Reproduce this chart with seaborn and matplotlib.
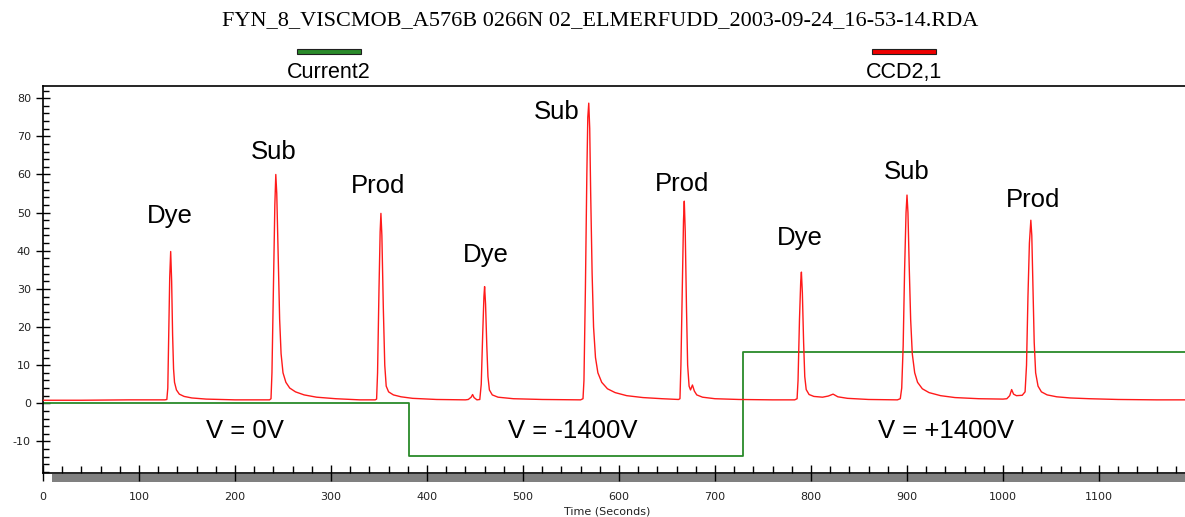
import matplotlib
matplotlib.use("Agg")
import matplotlib.pyplot as plt
from matplotlib.patches import Rectangle
from matplotlib.ticker import MultipleLocator
import seaborn as sns
import pandas as pd

# ---------------- data ----------------
title_text = "FYN_8_VISCMOB_A576B 0266N 02_ELMERFUDD_2003-09-24_16-53-14.RDA"
series_names = ["Current2", "CCD2,1"]

# CCD2,1 detector trace (time in s, signal)
trace_time = [
    0, 40, 90, 127,
    129, 130, 131, 132, 133, 134, 135, 136, 137, 139, 142, 147, 155, 170, 200, 236,
    237.5, 238.5, 240, 241.5, 242.5, 243.5, 245, 246.5, 248, 250, 253, 257, 263, 272, 285, 305, 330, 346,
    347.5, 348.5, 350, 351.2, 352, 353, 354.5, 356, 357.5, 360, 365, 373, 385, 410, 440,
    443, 446, 447.5, 449, 452, 455, 456.5, 458, 459.3, 460, 461, 462.3, 463.5, 465, 468, 474, 490, 520, 560,
    562.5, 563.5, 565, 566.5, 567.5, 568.5, 569.5, 570.5, 572, 573.5, 575.5, 578, 582, 588, 596, 608, 625, 645, 662,
    663.5, 664.5, 666, 667.2, 668, 669, 670.3, 671.5, 673, 674.5, 676.5, 678.5, 681, 687, 700, 725, 760, 783,
    785.5, 786.5, 788, 789.3, 790, 791, 792.3, 793.5, 795, 798, 803, 812, 818, 823, 828, 838, 860, 890,
    893, 894.5, 896, 897.5, 899, 900, 901, 902.3, 903.8, 905.5, 908, 911, 916, 923, 935, 950, 975, 1000,
    1004, 1007, 1009, 1011, 1014, 1020, 1023, 1024.5, 1026, 1027.5, 1029, 1030, 1031.3, 1032.5, 1034, 1036.5,
    1040, 1046, 1056, 1070, 1090, 1120, 1160, 1190,
]
trace_signal = [
    0.8, 0.8, 0.9, 0.9,
    1.0, 4, 18, 33, 39.8, 32, 18, 9, 5.5, 3.5, 2.4, 1.8, 1.4, 1.1, 0.9, 0.9,
    1.2, 8, 30, 52, 60, 55, 38, 22, 13, 8, 5.5, 4, 3, 2.2, 1.6, 1.2, 0.9, 0.9,
    1.1, 8, 30, 45, 49.8, 44, 25, 10, 4.5, 3, 2.2, 1.7, 1.3, 1.0, 0.9,
    1.0, 1.6, 2.3, 1.5, 0.9, 1.0, 5, 18, 28, 30.6, 26, 15, 7, 3.5, 2.2, 1.6, 1.2, 1.0, 0.9,
    1.2, 6, 30, 60, 75, 78.7, 72, 55, 34, 20, 12, 8, 5.5, 3.8, 2.8, 2, 1.5, 1.2, 1.0,
    1.2, 10, 32, 48, 53, 45, 25, 10, 4.5, 3.5, 4.8, 3.2, 2.2, 1.6, 1.2, 1.0, 0.9, 0.9,
    1.2, 6, 22, 32, 34.4, 29, 16, 7, 3.6, 2.3, 1.8, 1.6, 1.9, 2.4, 1.7, 1.3, 1.0, 0.9,
    1.2, 4, 15, 35, 50, 54.6, 50, 36, 22, 13, 8, 5.5, 3.8, 2.8, 2, 1.5, 1.2, 1.1,
    1.2, 2, 3.6, 2.4, 2, 2.1, 3, 10, 28, 42, 48, 44, 30, 16, 8, 4.5,
    3, 2.2, 1.7, 1.4, 1.2, 1.0, 0.9, 0.9,
]

# Current2 (applied voltage) step trace
volt_time = [0, 381, 729, 1190]
volt_level = [0, -13.8, 13.4, 13.4]

# peak annotations
peak_labels = ["Dye", "Sub", "Prod", "Dye", "Sub", "Prod", "Dye", "Sub", "Prod"]
peak_label_x = [132, 240, 349, 461, 535, 666, 788, 900, 1031]
peak_label_y = [49, 66, 57, 39, 76.5, 57.4, 43.3, 60.6, 53.3]

# voltage region annotations
region_labels = ["V = 0V", "V = -1400V", "V = +1400V"]
region_x = [210, 552, 941]
region_y = [-7.3, -7.3, -7.3]

x_ticks = [0, 100, 200, 300, 400, 500, 600, 700, 800, 900, 1000, 1100]
y_ticks = [-10, 0, 10, 20, 30, 40, 50, 60, 70, 80]

# ---------------- drawing ----------------
sns.set_style("ticks")
plt.rcParams["font.family"] = ["DejaVu Sans"]

W, H = 1185, 517
fig = plt.figure(figsize=(W / 100, H / 100), dpi=100)
fig.patch.set_facecolor("white")


def fx(px):
    return px / W


def fy(py):
    return 1 - py / H


ax_left, ax_top, ax_bottom = 43, 86, 472.7
ax = fig.add_axes([fx(ax_left), fy(ax_bottom), fx(W - ax_left), (ax_bottom - ax_top) / H])
ax.set_facecolor("white")

GREEN = "#2a8a2a"
RED = "#ff1a1a"

df_trace = pd.DataFrame({"time": trace_time, "signal": trace_signal})
df_volt = pd.DataFrame({"time": volt_time, "level": volt_level})

sns.lineplot(data=df_volt, x="time", y="level", ax=ax, color=GREEN, lw=1.3,
             drawstyle="steps-post", estimator=None, sort=False, zorder=2)
sns.lineplot(data=df_trace, x="time", y="signal", ax=ax, color=RED, lw=1.0,
             estimator=None, sort=False, zorder=3)

ax.set_xlim(0, (W - ax_left) / 0.96)
ax.set_ylim(-18.2, 83.2)
ax.set_xlabel("")
ax.set_ylabel("")

ax.set_xticks(x_ticks)
ax.set_xticklabels([str(v) for v in x_ticks])
ax.xaxis.set_minor_locator(MultipleLocator(20))
ax.set_yticks(y_ticks)
ax.set_yticklabels([str(v) for v in y_ticks])
ax.yaxis.set_minor_locator(MultipleLocator(2))

ax.tick_params(axis="x", which="major", direction="inout", length=11.5, width=1.0,
               color="black", labelsize=8, pad=8.5, labelcolor="#222222")
ax.tick_params(axis="x", which="minor", direction="in", length=5, width=1.0, color="black")
ax.tick_params(axis="y", which="major", direction="inout", length=9.4, width=1.0,
               color="black", labelsize=8, pad=4, labelcolor="#222222")
ax.tick_params(axis="y", which="minor", direction="in", length=4.3, width=1.0, color="black")

for s in ["left", "top", "bottom"]:
    ax.spines[s].set_visible(True)
    ax.spines[s].set_color("black")
    ax.spines[s].set_linewidth(1.2)
ax.spines["right"].set_visible(False)

for lab, x, y in zip(peak_labels, peak_label_x, peak_label_y):
    ax.text(x, y, lab, ha="center", va="center", fontsize=18.5,
            family=["Liberation Sans"], color="black")
for lab, x, y in zip(region_labels, region_x, region_y):
    ax.text(x, y, lab, ha="center", va="center", fontsize=18.5,
            family=["Liberation Sans"], color="black")

# gray scroll bar under the time axis
fig.add_artist(Rectangle((fx(52), fy(482)), fx(W - 52), (482 - 473.5) / H,
                         transform=fig.transFigure, facecolor="#808080",
                         edgecolor="none", zorder=-1))

# title
fig.text(fx(600), fy(21), title_text, ha="center", va="center",
         fontsize=16, family=["Liberation Serif"], color="black")

# legend-like series markers
legend_colors = [GREEN, "#ee0000"]
legend_x0 = [297, 872]
for name, col, x0 in zip(series_names, legend_colors, legend_x0):
    fig.add_artist(Rectangle((fx(x0), fy(53.5)), fx(64), 5 / H,
                             transform=fig.transFigure, facecolor=col,
                             edgecolor="#202020", lw=0.8))
    fig.text(fx(x0 + 32), fy(73), name, ha="center", va="center",
             fontsize=15.5, family=["Liberation Sans"], color="black")

fig.text(fx(607), fy(512), "Time (Seconds)", ha="center", va="center",
         fontsize=8, color="#222222")

fig.savefig("out.png", dpi=100)
